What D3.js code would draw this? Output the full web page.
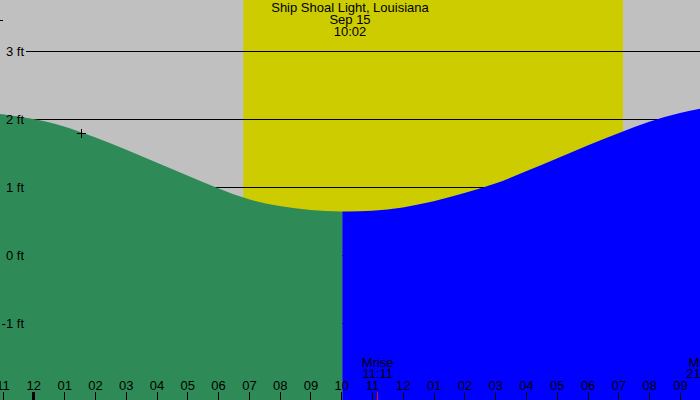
<!DOCTYPE html>
<html lang="en">
<head>
<meta charset="UTF-8">
<title>Ship Shoal Light tide</title>
<script src="https://d3js.org/d3.v7.min.js"></script>
<style>
  body { margin: 0; }
  svg { display: block; }
  text { font-family: "Liberation Sans", Arial, sans-serif; font-size: 13px; fill: #000; }
  line { shape-rendering: crispEdges; }
</style>
</head>
<body>
<svg width="700" height="400"></svg>
<script>
// tide heights, hour offsets from midnight Sep 15
const tideHours = [-2, -1, 0, 1, 2, 3, 4, 5, 6, 7, 8, 9, 10, 11, 12, 13, 14, 15, 16, 17, 18, 19, 20, 21, 22];
const tideFeet  = [2.12, 2.07, 2.00, 1.89, 1.73, 1.55, 1.36, 1.17, 0.98, 0.82, 0.72, 0.66, 0.64, 0.65, 0.70, 0.79, 0.91, 1.05, 1.23, 1.42, 1.61, 1.79, 1.96, 2.09, 2.18];
const yTicks = [3, 2, 1, 0, -1];
const title = ["Ship Shoal Light, Louisiana", "Sep 15", "10:02"];
const now = "10:02";
const sunrise = "06:49", sunset = "19:09";
const moonrise = "11:11", moonset = "21:44";
const markTime = "01:33", markFeet = 1.80;

const width = 700, height = 400;
const day = (h, m) => new Date(2023, 8, 15, h, m || 0);
const t = s => { const [h, m] = s.split(":").map(Number); return day(h, m); };

const svg = d3.select("svg");
const x = d3.scaleTime().domain([new Date(2023, 8, 14, 22, 55), day(21, 39)]).range([0, width]);
const y = d3.scaleLinear().domain([-1, 3]).range([323, 51]);

const data = tideHours.map((h, i) => ({ date: d3.timeHour.offset(day(0), h), ft: tideFeet[i] }));

// background night / day
svg.append("rect").attr("width", width).attr("height", height).attr("fill", "#c0c0c0");
svg.append("rect")
  .attr("x", x(t(sunrise))).attr("width", x(t(sunset)) - x(t(sunrise)))
  .attr("height", height).attr("fill", "#cccc00");

// grid lines (under the tide)
svg.selectAll("line.grid").data(yTicks).enter().append("line")
  .attr("class", "grid")
  .attr("x1", 26).attr("x2", width)
  .attr("y1", d => y(d)).attr("y2", d => y(d))
  .attr("stroke", "#000");

svg.append("line").attr("x1", 0).attr("x2", 3).attr("y1", 20.5).attr("y2", 20.5).attr("stroke", "#000");

// tide area split at current time
const defs = svg.append("defs");
defs.append("clipPath").attr("id", "past").append("rect")
  .attr("x", 0).attr("width", x(t(now))).attr("height", height);
defs.append("clipPath").attr("id", "future").append("rect")
  .attr("x", x(t(now))).attr("width", width - x(t(now))).attr("height", height);

const area = d3.area()
  .x(d => x(d.date)).y0(height).y1(d => y(d.ft))
  .curve(d3.curveNatural);

svg.append("path").datum(data).attr("d", area).attr("fill", "#2e8b57").attr("clip-path", "url(#past)");
svg.append("path").datum(data).attr("d", area).attr("fill", "#0000ff").attr("clip-path", "url(#future)");

// y labels
svg.selectAll("text.ylab").data(yTicks).enter().append("text")
  .attr("class", "ylab")
  .attr("x", 24).attr("y", d => y(d)).attr("dy", "0.35em")
  .attr("text-anchor", "end")
  .text(d => d + " ft");

// marker
const mx = Math.round(x(t(markTime))) + 0.5, my = Math.round(y(markFeet)) + 0.5;
svg.append("path")
  .attr("d", `M${mx - 4.5},${my}H${mx + 4.5}M${mx},${my - 4.5}V${my + 4.5}`)
  .attr("stroke", "#000").attr("fill", "none");

// title
svg.selectAll("text.title").data(title).enter().append("text")
  .attr("class", "title")
  .attr("x", width / 2).attr("y", (d, i) => 12 + i * 12)
  .attr("text-anchor", "middle")
  .text(d => d);

// hour axis along the bottom
const axis = d3.axisTop(x)
  .ticks(d3.timeHour.every(1))
  .tickFormat(d3.timeFormat("%I"))
  .tickSize(8).tickPadding(2);

const gx = svg.append("g").attr("transform", `translate(0,${height})`).call(axis);
gx.select(".domain").remove();
gx.selectAll(".tick line").attr("stroke", "#000")
  .attr("stroke-width", d => d.getHours() === 0 ? 3 : 1);
gx.selectAll(".tick text").attr("fill", "#000").style("font-size", "13px")
  .style("font-family", "'Liberation Sans', Arial, sans-serif");

// moon rise / set
[["Mrise", moonrise], ["Mset", moonset]].forEach(([lab, tm]) => {
  const mxp = x(t(tm));
  svg.append("line").attr("x1", mxp).attr("x2", mxp).attr("y1", height - 8).attr("y2", height)
    .attr("stroke", "#ff0000");
  svg.append("text").attr("x", mxp).attr("y", 366.5).attr("text-anchor", "middle").text(lab);
  svg.append("text").attr("x", mxp).attr("y", 378).attr("text-anchor", "middle").text(tm);
});
</script>
</body>
</html>
